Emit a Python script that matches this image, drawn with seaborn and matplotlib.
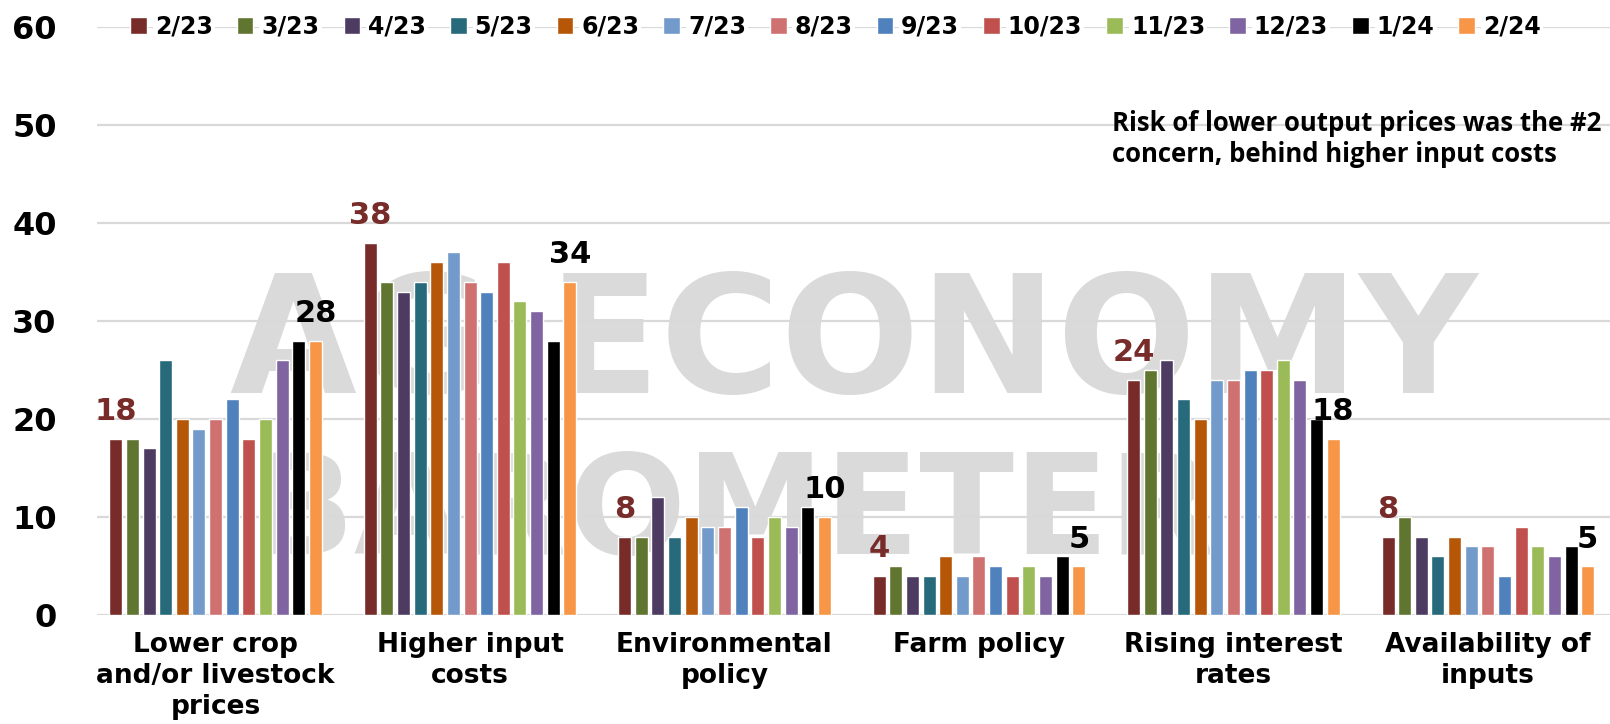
import numpy as np
import pandas as pd
import seaborn as sns
import matplotlib.pyplot as plt

# =========================================================
# Data (percent of respondents)
# =========================================================
categories = [
    "Lower crop\nand/or livestock\nprices",
    "Higher input\ncosts",
    "Environmental\npolicy",
    "Farm policy",
    "Rising interest\nrates",
    "Availability of\ninputs",
]
months = ["2/23", "3/23", "4/23", "5/23", "6/23", "7/23", "8/23",
          "9/23", "10/23", "11/23", "12/23", "1/24", "2/24"]

v_feb23 = [18, 38, 8, 4, 24, 8]
v_mar23 = [18, 34, 8, 5, 25, 10]
v_apr23 = [17, 33, 12, 4, 26, 8]
v_may23 = [26, 34, 8, 4, 22, 6]
v_jun23 = [20, 36, 10, 6, 20, 8]
v_jul23 = [19, 37, 9, 4, 24, 7]
v_aug23 = [20, 34, 9, 6, 24, 7]
v_sep23 = [22, 33, 11, 5, 25, 4]
v_oct23 = [18, 36, 8, 4, 25, 9]
v_nov23 = [20, 32, 10, 5, 26, 7]
v_dec23 = [26, 31, 9, 4, 24, 6]
v_jan24 = [28, 28, 11, 6, 20, 7]
v_feb24 = [28, 34, 10, 5, 18, 5]

colors = ["#772C2A", "#5F7530", "#4D3B62", "#276A7C", "#B65708", "#729ACA",
          "#D07171", "#4F81BD", "#C0504D", "#9BBB59", "#8064A2", "#000000",
          "#F79646"]

note = "Risk of lower output prices was the #2\nconcern, behind higher input costs"

# =========================================================
# Build long table
# =========================================================
series = [v_feb23, v_mar23, v_apr23, v_may23, v_jun23, v_jul23, v_aug23,
          v_sep23, v_oct23, v_nov23, v_dec23, v_jan24, v_feb24]
rows = []
for m, vals in zip(months, series):
    for c, v in zip(categories, vals):
        rows.append({"Concern": c, "Month": m, "Pct": v})
df = pd.DataFrame(rows)

# =========================================================
# Plot
# =========================================================
sns.set_style("white")
plt.rcParams["font.family"] = ["DejaVu Sans"]
plt.rcParams["text.color"] = "black"
plt.rcParams["xtick.color"] = "black"
plt.rcParams["ytick.color"] = "black"

W, H = 1610, 724
fig = plt.figure(figsize=(W / 100, H / 100), dpi=100)
ax = fig.add_axes([97 / W, 109 / H, 1 - 97 / W, 588 / H])

# faint watermark behind the bars
ax.text(0.5, 0.455, "AG ECONOMY", transform=ax.transAxes, ha="center", va="center",
        fontsize=118, fontweight="bold", color="#dadada", zorder=0)
ax.text(0.42, 0.17, "BAROMETER", transform=ax.transAxes, ha="center", va="center",
        fontsize=100, fontweight="bold", color="#dadada", zorder=0)

sns.barplot(data=df, x="Concern", y="Pct", hue="Month", hue_order=months,
            order=categories, palette=colors, width=0.85, gap=0.22,
            saturation=1, ax=ax, zorder=2)

ax.set_ylim(0, 60)
ax.set_xlim(-0.466, 5.48)
ax.set_yticks(range(0, 61, 10))
ax.yaxis.grid(True, color="#d9d9d9", linewidth=1.6, zorder=1)
ax.set_axisbelow(True)
for s in ax.spines.values():
    s.set_visible(False)
ax.set_xlabel("")
ax.set_ylabel("")
ax.tick_params(axis="y", length=0, pad=29, labelsize=23)
ax.tick_params(axis="x", length=0, pad=12, labelsize=19)
for t in ax.get_yticklabels():
    t.set_fontweight("bold")
for t in ax.get_xticklabels():
    t.set_fontweight("bold")
    t.set_linespacing(1.25)

# first and latest month labels
ax.bar_label(ax.containers[0], fontsize=22, fontweight="bold", color="#772C2A", padding=9)
ax.bar_label(ax.containers[-1], fontsize=22, fontweight="bold", color="black", padding=9)

# legend along the top gridline
handles, labels = ax.get_legend_handles_labels()
ax.get_legend().remove()
leg = fig.legend(handles, labels, loc="center left", bbox_to_anchor=(121 / W, 1 - 27 / H),
                 ncol=13, frameon=False, fontsize=17, handlelength=0.7,
                 handleheight=0.7, handletextpad=0.34, columnspacing=1.02,
                 borderaxespad=0)
for t in leg.get_texts():
    t.set_fontweight("bold")
    t.set_bbox(dict(facecolor="white", edgecolor="none", pad=1.5))

fig.text(1112 / W, 1 - 110 / H, note, ha="left", va="top", fontsize=18.5,
         fontweight="bold", family=["Open Sans", "DejaVu Sans"], linespacing=1.2)

fig.savefig("out.png", dpi=100)
